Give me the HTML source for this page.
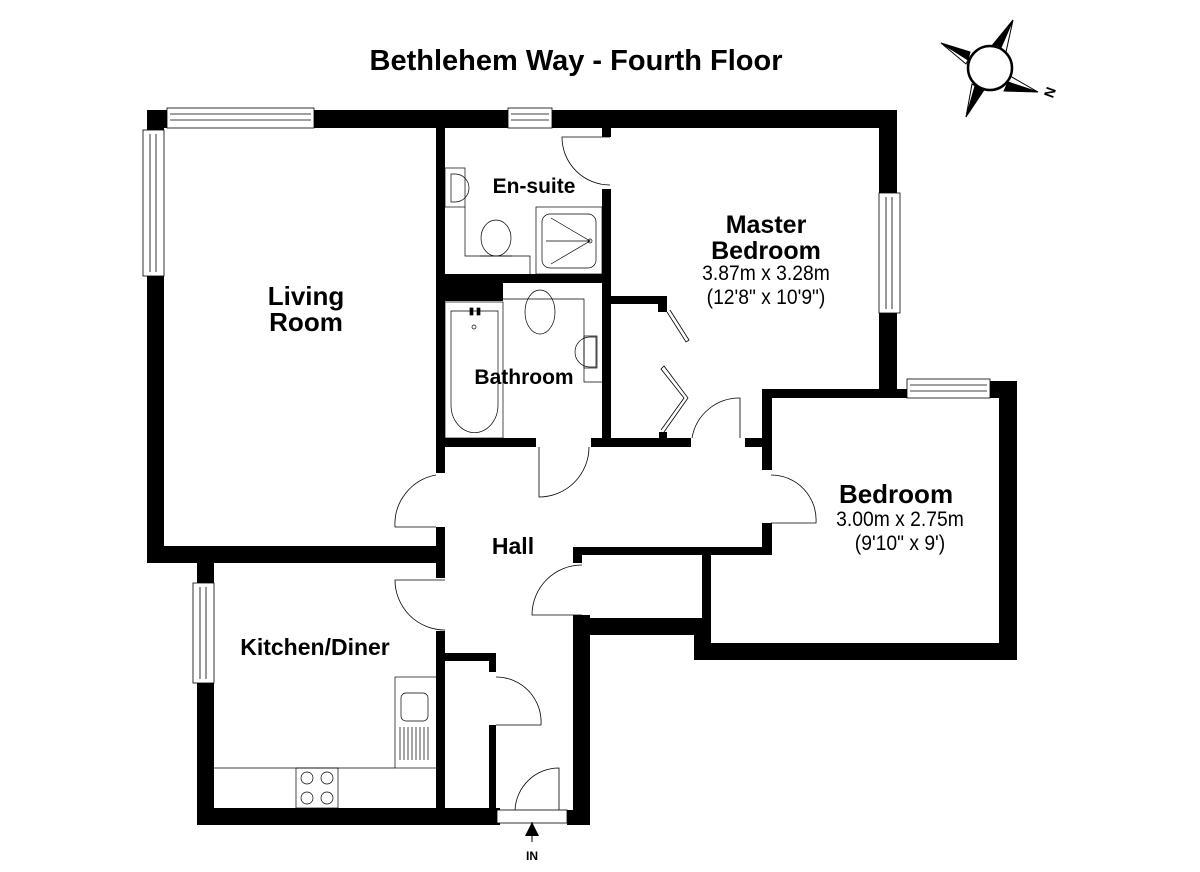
<!DOCTYPE html>
<html><head><meta charset="utf-8"><style>
html,body{margin:0;padding:0;background:#fff;}
svg{display:block;}
text{font-family:"Liberation Sans",Arial,sans-serif;fill:#000;}
.b{font-weight:bold;}
</style></head><body>
<svg width="1200" height="872" viewBox="0 0 1200 872" xmlns="http://www.w3.org/2000/svg">
<rect width="1200" height="872" fill="#fff"/>
<text x="576" y="70" text-anchor="middle" class="b" font-size="29">Bethlehem Way - Fourth Floor</text>

<!-- compass -->
<g stroke="#000" stroke-width="1">
<polygon points="1013,20 1000,50 990,48" fill="#000"/>
<polygon points="1013,20 1006,52 1000,50" fill="#fff"/>
<polygon points="941,43 970,52 968,60" fill="#000"/>
<polygon points="941,43 968,60 966,64" fill="#fff"/>
<polygon points="966,117 975,86 984,90" fill="#000"/>
<polygon points="966,117 972,84 975,86" fill="#fff"/>
<polygon points="1038,92 1008,82 1004,91" fill="#000"/>
<polygon points="1038,92 1010,76 1008,82" fill="#fff"/>
<circle cx="990" cy="68" r="22" fill="#fff" stroke-width="2.5"/>
</g>
<text x="1048" y="102" class="b" font-size="14" transform="rotate(-70 1048 97)">N</text>

<g fill="#000">
<rect x="147" y="110" width="750" height="18"/>
<rect x="147" y="110" width="17" height="453"/>
<rect x="147" y="546" width="298" height="17"/>
<rect x="197" y="546" width="17" height="279"/>
<rect x="197" y="808" width="303" height="17"/>
<rect x="436" y="110" width="9" height="363"/>
<rect x="436" y="527" width="9" height="51"/>
<rect x="436" y="631" width="9" height="194"/>
<rect x="445" y="274" width="166" height="9"/>
<rect x="445" y="274" width="58" height="27"/>
<rect x="602" y="110" width="9" height="27"/>
<rect x="602" y="189" width="9" height="258"/>
<rect x="611" y="296" width="56" height="8"/>
<rect x="658" y="296" width="9" height="16"/>
<rect x="659" y="432" width="8" height="15"/>
<rect x="445" y="438" width="91" height="9"/>
<rect x="591" y="438" width="100" height="9"/>
<rect x="745" y="438" width="26" height="9"/>
<rect x="879" y="110" width="18" height="288"/>
<rect x="762" y="389" width="145" height="9"/>
<rect x="762" y="389" width="10" height="81"/>
<rect x="762" y="523" width="10" height="32"/>
<rect x="990" y="381" width="27" height="17"/>
<rect x="999" y="381" width="18" height="279"/>
<rect x="694" y="643" width="323" height="17"/>
<rect x="694" y="618" width="17" height="42"/>
<rect x="702" y="547" width="9" height="90"/>
<rect x="573" y="547" width="198" height="8"/>
<rect x="573" y="547" width="9" height="16"/>
<rect x="573" y="615" width="9" height="5"/>
<rect x="573" y="618" width="138" height="17"/>
<rect x="573" y="615" width="17" height="210"/>
<rect x="567" y="810" width="23" height="15"/>
<rect x="445" y="653" width="51" height="8"/>
<rect x="489" y="653" width="7" height="19"/>
<rect x="489" y="725" width="7" height="100"/>
</g>

<!-- windows -->
<g fill="#fff" stroke="#000" stroke-width="0.8">
<rect x="167" y="108" width="147" height="20"/>
<line x1="170" y1="114" x2="311" y2="114"/><line x1="170" y1="120" x2="311" y2="120"/>
<rect x="508" y="108" width="44" height="20"/>
<line x1="511" y1="114" x2="549" y2="114"/><line x1="511" y1="120" x2="549" y2="120"/>
<rect x="143" y="130" width="21" height="146"/>
<line x1="150" y1="134" x2="150" y2="272"/><line x1="156" y1="134" x2="156" y2="272"/>
<rect x="193" y="583" width="21" height="100"/>
<line x1="200" y1="587" x2="200" y2="679"/><line x1="206" y1="587" x2="206" y2="679"/>
<rect x="879" y="193" width="21" height="120"/>
<line x1="886" y1="197" x2="886" y2="309"/><line x1="892" y1="197" x2="892" y2="309"/>
<rect x="907" y="379" width="83" height="19"/>
<line x1="910" y1="385" x2="987" y2="385"/><line x1="910" y1="391" x2="987" y2="391"/>
<rect x="497" y="810" width="70" height="13"/>
</g>

<!-- doors -->
<g fill="none" stroke="#000" stroke-width="0.8">
<path d="M610 137 L562 137 A48 48 0 0 0 610 185"/>
<path d="M539 447 L539 497 A50 50 0 0 0 589 447"/>
<path d="M436 527 L395 527 A50 50 0 0 1 436 475"/>
<path d="M445 580 L395 580 A50 50 0 0 0 445 630"/>
<path d="M771 523 L816 523 A45 45 0 0 0 771 475"/>
<path d="M582 615 L532 615 A50 50 0 0 1 582 565"/>
<path d="M496 725 L541 725 A45 45 0 0 0 496 677"/>
<path d="M559 810 L559 768 A44 44 0 0 0 515 810"/>
<path d="M740 438 L740 398 A48 48 0 0 0 692 438"/>
<path d="M667 312 L686 342 L689 340 L670 310"/>
<path d="M664 432 L688 398 L664 366 L661 369 L684 398 L661 430"/>
</g>

<!-- fixtures -->
<g fill="none" stroke="#000" stroke-width="0.7">
<rect x="445" y="168" width="20" height="39"/>
<path d="M451 174 L455 174 A14 14 0 0 1 455 202 L451 202 Z"/>
<path d="M465 207 L465 256 L530 256 L530 274"/>
<ellipse cx="496" cy="238" rx="15" ry="18"/>
<line x1="480" y1="256" x2="512" y2="256"/>
<rect x="536" y="207" width="66" height="67"/>
<rect x="542" y="214" width="54" height="54" rx="8"/>
<path d="M551 218 L590 241 L551 264 M546 241 L590 241"/>
<circle cx="590" cy="241" r="2"/>
<rect x="445" y="302" width="58" height="136"/>
<path d="M451 311 L498 311 L498 405 A23 27 0 0 1 451 405 Z"/>
<circle cx="474" cy="327" r="2"/>
<rect x="470" y="308" width="3" height="7" fill="#000"/>
<rect x="477" y="308" width="3" height="7" fill="#000"/>
<path d="M503 299 L584 299 L584 382 L602 382"/>
<ellipse cx="540" cy="312" rx="15" ry="22"/>
<path d="M596 337 L590 337 A15 15 0 0 0 590 367 L596 367 Z"/>
<rect x="584" y="336" width="13" height="32"/>
<rect x="395" y="677" width="42" height="91"/>
<rect x="401" y="693" width="27" height="28" rx="5"/>
<path d="M400 727 V760 M404 727 V760 M408 727 V760 M412 727 V760 M416 727 V760 M420 727 V760 M424 727 V760 M428 727 V760"/>
<line x1="214" y1="768" x2="395" y2="768"/>
<rect x="296" y="768" width="42" height="40"/>
<circle cx="307" cy="778" r="6"/><circle cx="327" cy="778" r="6"/>
<circle cx="307" cy="798" r="6"/><circle cx="327" cy="798" r="6"/>
</g>

<line x1="532" y1="822" x2="532" y2="842" stroke="#000" stroke-width="1"/>
<polygon points="532,822 525,836 539,836" fill="#000"/>
<text x="532" y="860" text-anchor="middle" class="b" font-size="12">IN</text>

<!-- labels -->
<text x="306" y="305" text-anchor="middle" class="b" font-size="26">Living</text>
<text x="306" y="331" text-anchor="middle" class="b" font-size="26">Room</text>
<text x="534" y="193" text-anchor="middle" class="b" font-size="21">En-suite</text>
<text x="524" y="384" text-anchor="middle" class="b" font-size="21">Bathroom</text>
<text x="766" y="233" text-anchor="middle" class="b" font-size="25">Master</text>
<text x="766" y="259" text-anchor="middle" class="b" font-size="25">Bedroom</text>
<text x="766" y="280" text-anchor="middle" font-size="21" transform="translate(766 0) scale(0.92 1) translate(-766 0)">3.87m x 3.28m</text>
<text x="766" y="304" text-anchor="middle" font-size="21" transform="translate(766 0) scale(0.92 1) translate(-766 0)">(12'8" x 10'9")</text>
<text x="513" y="554" text-anchor="middle" class="b" font-size="23">Hall</text>
<text x="896" y="503" text-anchor="middle" class="b" font-size="26">Bedroom</text>
<text x="900" y="526" text-anchor="middle" font-size="21" transform="translate(900 0) scale(0.92 1) translate(-900 0)">3.00m x 2.75m</text>
<text x="900" y="550" text-anchor="middle" font-size="21" transform="translate(900 0) scale(0.92 1) translate(-900 0)">(9'10" x 9')</text>
<text x="315" y="655" text-anchor="middle" class="b" font-size="23">Kitchen/Diner</text>
</svg>
</body></html>
